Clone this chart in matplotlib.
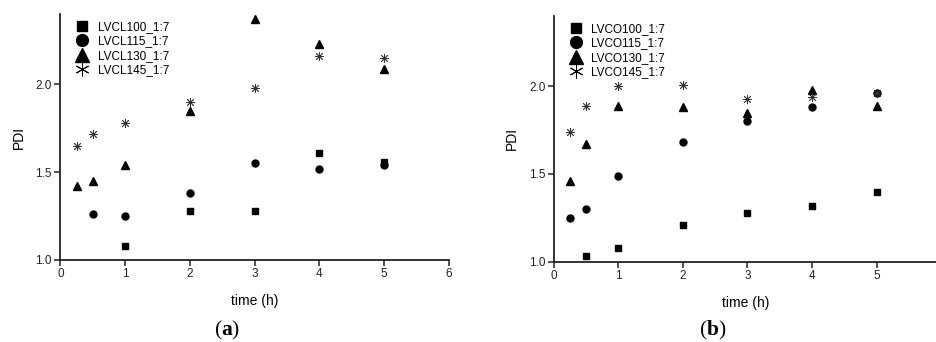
import matplotlib
matplotlib.use("Agg")
import matplotlib.pyplot as plt
from matplotlib.lines import Line2D

# --- DATA ---
t_all = [0.25, 0.5, 1, 2, 3, 4, 5]

# panel (a)
lvcl100_t = [1, 2, 3, 4, 5]
lvcl100 = [1.08, 1.28, 1.28, 1.61, 1.56]
lvcl115_t = [0.5, 1, 2, 3, 4, 5]
lvcl115 = [1.26, 1.25, 1.38, 1.55, 1.52, 1.54]
lvcl130 = [1.42, 1.45, 1.54, 1.85, 2.37, 2.23, 2.09]
lvcl145 = [1.65, 1.72, 1.78, 1.90, 1.98, 2.16, 2.15]

# panel (b)
lvco100_t = [0.5, 1, 2, 3, 4, 5]
lvco100 = [1.03, 1.08, 1.21, 1.28, 1.32, 1.40]
lvco115 = [1.25, 1.30, 1.49, 1.68, 1.80, 1.88, 1.96]
lvco130 = [1.46, 1.67, 1.89, 1.88, 1.85, 1.98, 1.89]
lvco145 = [1.74, 1.89, 2.00, 2.01, 1.93, 1.94, 1.96]

labels_a = ["LVCL100_1:7", "LVCL115_1:7", "LVCL130_1:7", "LVCL145_1:7"]
labels_b = ["LVCO100_1:7", "LVCO115_1:7", "LVCO130_1:7", "LVCO145_1:7"]

plt.rcParams['font.family'] = ['Liberation Sans', 'DejaVu Sans']
plt.rcParams['mathtext.fontset'] = 'custom'
plt.rcParams['mathtext.rm'] = 'Liberation Serif'
plt.rcParams['mathtext.bf'] = 'Liberation Serif:bold'

STAR = (8, 2, 0)
styles = [
    dict(marker='s', ms=4.8, color='black'),
    dict(marker='o', ms=5.0, color='black'),
    dict(marker='^', ms=6.0, color='black'),
    dict(marker=STAR, ms=6.5, mew=0.6, color='#333333'),
]


def draw_panel(ax, series, labels, xmax, xticks):
    for (x, y), st in zip(series, styles):
        ax.plot(x, y, linestyle='none', **st)

    ax.set_xlim(0, xmax)
    ax.set_ylim(1.0, 2.4)
    ax.set_xticks(xticks)
    ax.set_yticks([1.0, 1.5, 2.0])
    ax.set_yticklabels(["1.0", "1.5", "2.0"])
    for s in ['top', 'right']:
        ax.spines[s].set_visible(False)
    for s in ['left', 'bottom']:
        ax.spines[s].set_linewidth(1.3)
        ax.spines[s].set_color('#222222')
    ax.tick_params(direction='out', length=4, width=1.1, labelsize=8.5,
                   colors='#222222', pad=2)
    ax.set_xlabel("time (h)", fontsize=10, labelpad=10)
    ax.set_ylabel("PDI", fontsize=10, labelpad=7)

    # legend with bigger markers
    handles = [
        Line2D([], [], linestyle='none', color='black', marker='s', ms=7.5),
        Line2D([], [], linestyle='none', color='black', marker='o', ms=8.5),
        Line2D([], [], linestyle='none', color='black', marker='^', ms=9.5),
        Line2D([], [], linestyle='none', color='black', marker=(6, 2, 0), ms=10, mew=0.7),
    ]
    ax.legend(handles, labels, loc='upper left', bbox_to_anchor=(0.02, 1.005),
              frameon=False, fontsize=8.5, handlelength=1.0, handletextpad=0.8,
              labelspacing=0.2, borderpad=0.2)


fig = plt.figure(figsize=(9.37, 3.42), dpi=100)
ax_a = fig.add_axes([0.0644, 0.2398, 0.4145, 0.719])
ax_b = fig.add_axes([0.5909, 0.2348, 0.4088, 0.718])

draw_panel(ax_a,
           [(lvcl100_t, lvcl100), (lvcl115_t, lvcl115), (t_all, lvcl130), (t_all, lvcl145)],
           labels_a, 6, [0, 1, 2, 3, 4, 5, 6])
draw_panel(ax_b,
           [(lvco100_t, lvco100), (t_all, lvco115), (t_all, lvco130), (t_all, lvco145)],
           labels_b, 5.93, [0, 1, 2, 3, 4, 5])

fig.text(226.7 / 937, 1 - 330 / 342, r'$\mathrm{(}\mathbf{a}\mathrm{)}$',
         ha='center', va='center', fontsize=15.5)
fig.text(713 / 937, 1 - 330 / 342, r'$\mathrm{(}\mathbf{b}\mathrm{)}$',
         ha='center', va='center', fontsize=15.5)

fig.savefig("out.png", dpi=100)
